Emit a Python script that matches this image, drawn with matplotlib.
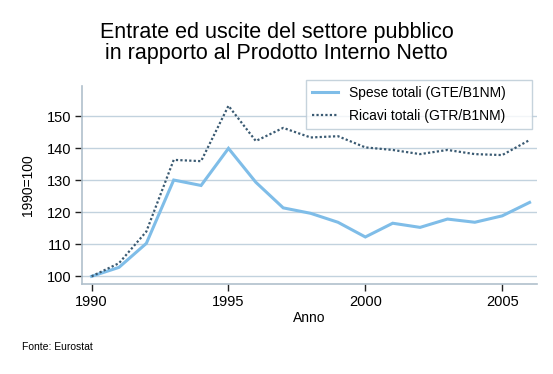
import matplotlib
matplotlib.use('Agg')
import matplotlib.pyplot as plt

plt.rcParams['font.family'] = ['Liberation Sans', 'DejaVu Sans']

anni = list(range(1990, 2007))
spese = [100.0, 102.8, 110.3, 130.1, 128.4, 140.0, 129.4, 121.4, 119.7, 116.9,
         112.3, 116.6, 115.3, 117.9, 116.9, 118.9, 123.1]
ricavi = [100.0, 104.1, 114.0, 136.4, 136.0, 153.3, 142.3, 146.4, 143.4, 143.8,
          140.3, 139.5, 138.2, 139.5, 138.2, 137.9, 142.6]
yticks = [100, 110, 120, 130, 140, 150]
xticks = [1990, 1995, 2000, 2005]

fig = plt.figure(figsize=(5.53, 3.74), dpi=100)
ax = fig.add_axes([0.1488, 0.2406, 0.971 - 0.1488, 0.771 - 0.2406])

l1, = ax.plot(anni, spese, color='#7fbde8', lw=2.2, solid_joinstyle='miter',
              label='Spese totali (GTE/B1NM)')
l2, = ax.plot(anni, ricavi, color='#3a5a72', lw=1.6, linestyle=(0, (1, 1)),
              label='Ricavi totali (GTR/B1NM)')

ax.set_xlim(1989.66, 2006.27)
ax.set_ylim(97.6, 159.6)
ax.set_xticks(xticks)
ax.set_yticks(yticks)
ax.yaxis.grid(True, color='#c2d2de', lw=1)
ax.set_axisbelow(True)

for s in ['top', 'right']:
    ax.spines[s].set_visible(False)
for s in ['left', 'bottom']:
    ax.spines[s].set_color('#b0c0cc')
    ax.spines[s].set_linewidth(1.2)
ax.tick_params(direction='out', length=5, width=1, color='#222222',
               labelsize=10.5, pad=3)

ax.set_xlabel('Anno', fontsize=10, labelpad=1)
ax.set_ylabel('1990=100', fontsize=10, labelpad=8)

fig.text(0.5, 1 - 43 / 374, 'Entrate ed uscite del settore pubblico\nin rapporto al Prodotto Interno Netto',
         ha='center', va='center', fontsize=15.5, linespacing=0.95)
fig.text(0.04, 0.072, 'Fonte: Eurostat', fontsize=7.5, va='center')

x0, x1 = 305.7 / 553, 532.3 / 553
y1, y0 = 1 - 80 / 374, 1 - 124 / 374
leg = fig.legend(handles=[l1, l2], loc='upper left',
                 bbox_to_anchor=(x0, y0, x1 - x0, y1 - y0), mode='expand',
                 fontsize=10, frameon=True, fancybox=False,
                 borderpad=0.45, handlelength=1.9, handletextpad=0.8,
                 labelspacing=0.6, borderaxespad=0)
leg.get_frame().set_edgecolor('#b8c8d4')
leg.get_frame().set_linewidth(1)

fig.savefig('out.png', dpi=100)
